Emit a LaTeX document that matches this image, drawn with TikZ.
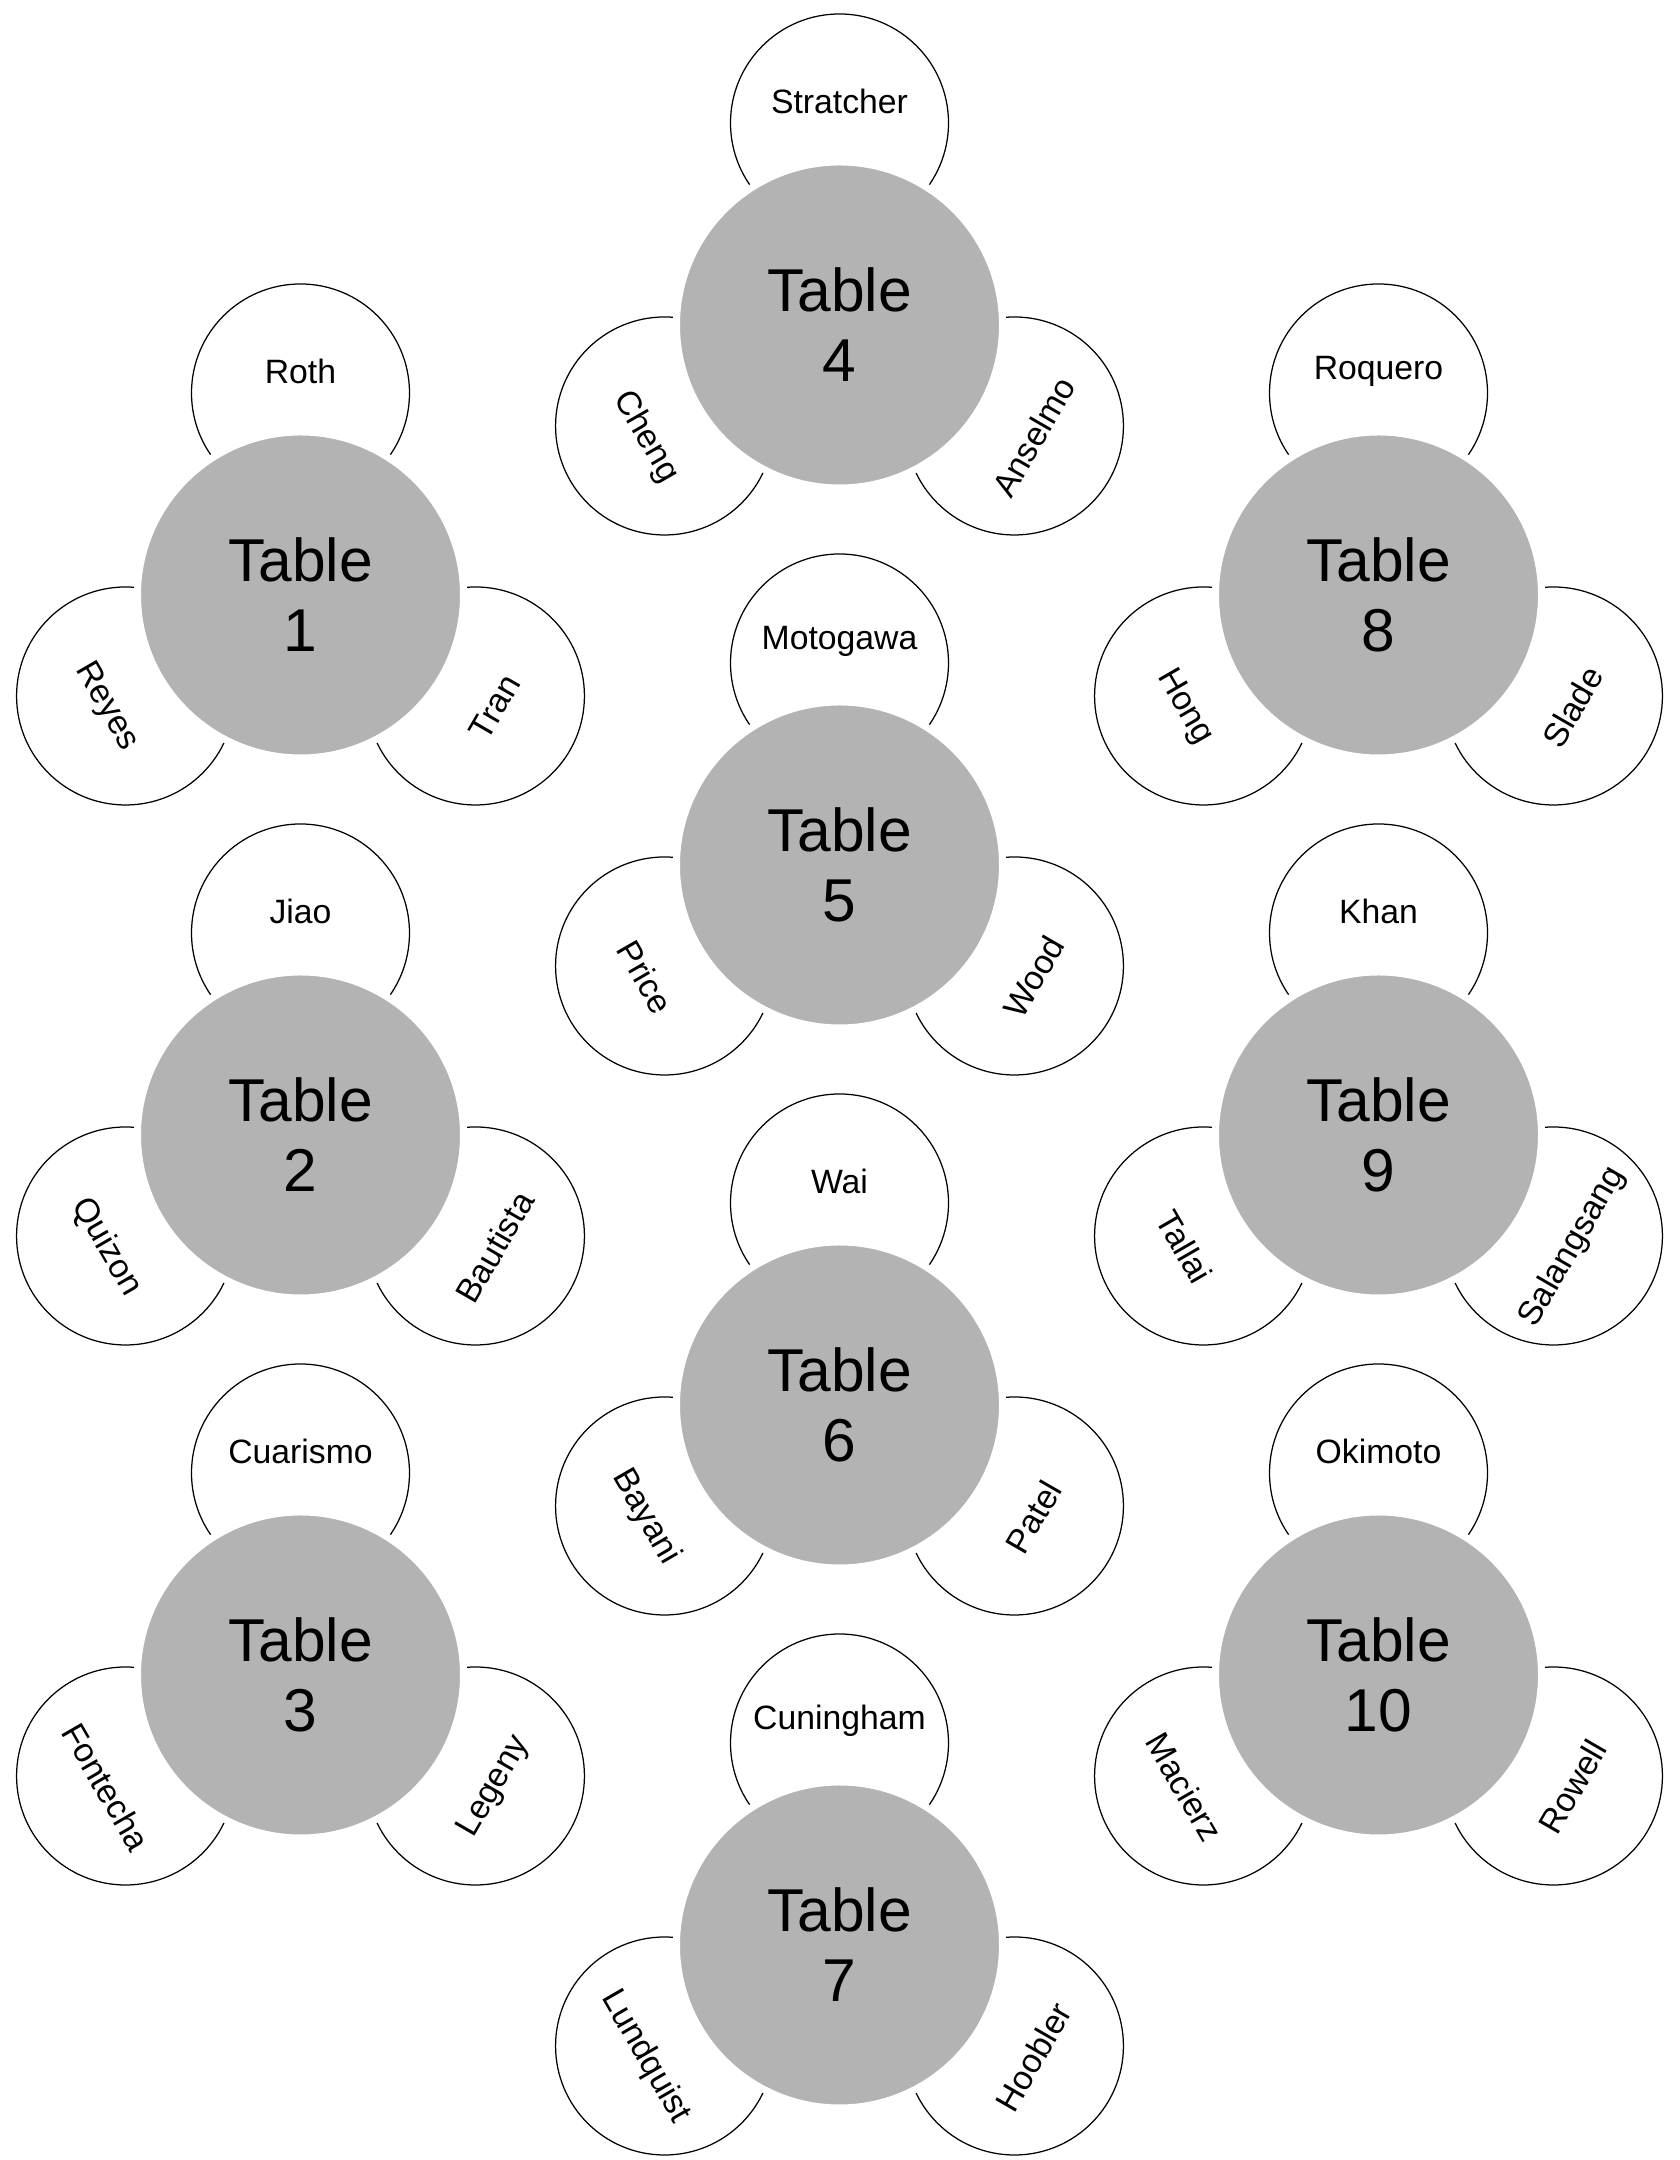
\documentclass[tikz,border=0pt]{standalone}
\usepackage{fontspec}
\setmainfont{Liberation Sans}
\definecolor{tablegray}{RGB}{179,179,179}
\newcommand\tableset[6]{%
  \begin{scope}[shift={(#1,2160-#2)}]
    \node[seat] (s#3t) at (90:202) {};
    \node[seat] (s#3l) at (210:202) {};
    \node[seat] (s#3r) at (330:202) {};
    \node[seatlabel] (n#3t) at (90:224) {#4};
    \node[seatlabel, rotate=-60] (n#3l) at (210:224) {#5};
    \node[seatlabel, rotate=60] (n#3r) at (330:224) {#6};
    \node[tablenode] (t#3) at (0,0) {};
    \node[tabletext] (l#3) at (0,0) {Table\\#3};
  \end{scope}}
\begin{document}
\begin{tikzpicture}[x=0.4pt,y=0.4pt,
  seat/.style={circle, draw=black, line width=0.5pt, fill=white, minimum size=87.2pt, inner sep=0pt},
  seatlabel/.style={inner sep=0pt, font=\fontsize{13.5}{15}\selectfont},
  tablenode/.style={circle, fill=tablegray, draw=white, line width=2.8pt, minimum size=130.4pt, inner sep=0pt},
  tabletext/.style={inner sep=0pt, align=center, font=\fontsize{24.2}{28}\selectfont}]
\useasboundingbox (0,0) rectangle (1680,2160);
\tableset{300.5}{595}{1}{Roth}{Reyes}{Tran}
\tableset{300.5}{1135}{2}{Jiao}{Quizon}{Bautista}
\tableset{300.5}{1675}{3}{Cuarismo}{Fontecha}{Legeny}
\tableset{839.5}{325}{4}{Stratcher}{Cheng}{Anselmo}
\tableset{839.5}{865}{5}{Motogawa}{Price}{Wood}
\tableset{839.5}{1405}{6}{Wai}{Bayani}{Patel}
\tableset{839.5}{1945}{7}{Cuningham}{Lundquist}{Hoobler}
\tableset{1378.5}{595}{8}{Roquero}{Hong}{Slade}
\tableset{1378.5}{1135}{9}{Khan}{Tallai}{Salangsang}
\tableset{1378.5}{1675}{10}{Okimoto}{Macierz}{Rowell}
\end{tikzpicture}
\end{document}
